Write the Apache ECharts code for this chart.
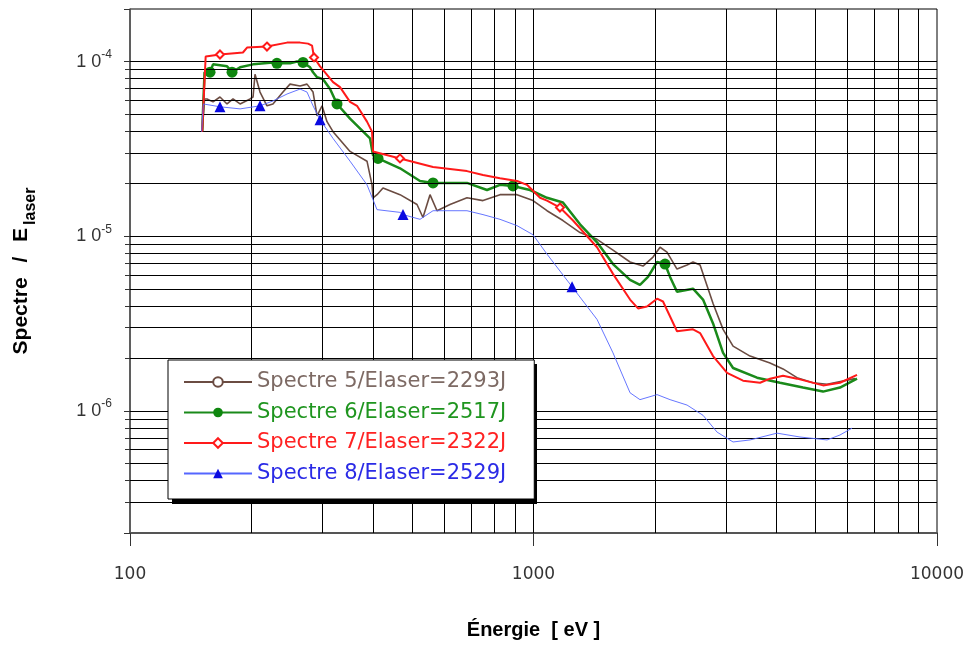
<!DOCTYPE html>
<html><head><meta charset="utf-8">
<script src="https://cdn.jsdelivr.net/npm/echarts@6/dist/echarts.min.js"></script>
<style>html,body{margin:0;padding:0;background:#fff}#c{width:970px;height:645px}</style>
</head><body><div id="c"></div>
<script>
// ---- data ----
const seriesNames = ['Spectre 5/Elaser=2293J', 'Spectre 6/Elaser=2517J', 'Spectre 7/Elaser=2322J', 'Spectre 8/Elaser=2529J'];

const s5E = [151, 153, 155.2, 160.6, 167.1, 174.0, 180.0, 187.4, 198.4, 201.8, 204.1, 210.0, 218.5, 226.1, 239.4, 249.2, 263.9, 274.6, 284.2, 290.8, 299.2, 307.8, 318.6, 351.0, 386.7, 397.9, 400.2, 409.5, 423.6, 466.8, 514.4, 532.2, 554.0, 576.6, 621.0, 684.1, 749.6, 826.0, 910.2, 997.2, 1080, 1183, 1304, 1437, 1574, 1735, 1868, 1978, 2059, 2142, 2268, 2402, 2485, 2587, 2786, 2950, 3123, 3441, 3856, 4153, 4498, 4928, 5339, 6264];
const s5V = [3.97e-5, 6.11e-5, 6.11e-5, 5.88e-5, 6.27e-5, 5.72e-5, 6.11e-5, 5.72e-5, 6.11e-5, 6.27e-5, 8.46e-5, 6.69e-5, 5.58e-5, 5.72e-5, 6.69e-5, 7.43e-5, 7.24e-5, 7.43e-5, 6.69e-5, 4.89e-5, 5.58e-5, 4.53e-5, 3.97e-5, 3.06e-5, 2.69e-5, 1.97e-5, 1.66e-5, 1.73e-5, 1.89e-5, 1.73e-5, 1.52e-5, 1.28e-5, 1.73e-5, 1.40e-5, 1.52e-5, 1.66e-5, 1.60e-5, 1.73e-5, 1.73e-5, 1.60e-5, 1.40e-5, 1.23e-5, 1.05e-5, 9.60e-6, 8.32e-6, 7.12e-6, 6.75e-6, 7.60e-6, 8.65e-6, 8.11e-6, 6.49e-6, 6.84e-6, 7.12e-6, 6.84e-6, 4.12e-6, 2.93e-6, 2.35e-6, 2.06e-6, 1.88e-6, 1.74e-6, 1.55e-6, 1.45e-6, 1.42e-6, 1.53e-6];
const s5Markers = [];

const s6E = [151, 153, 157.9, 160.6, 174.0, 179.0, 187.4, 201.8, 226.1, 231.3, 249.2, 259.4, 268.4, 279.4, 284.2, 290.8, 300.9, 313.2, 325.9, 351.0, 393.4, 400.2, 411.8, 466.8, 523.3, 563.6, 684.1, 767.0, 826.0, 889.6, 980.2, 1080, 1183, 1304, 1437, 1574, 1735, 1836, 1922, 2024, 2118, 2180, 2268, 2485, 2631, 2786, 2950, 3123, 3581, 4083, 4655, 5218, 5749, 6336];
const s6V = [3.97e-5, 8.69e-5, 8.69e-5, 9.64e-5, 9.39e-5, 8.69e-5, 9.27e-5, 9.64e-5, 9.89e-5, 9.77e-5, 9.77e-5, 1.002e-4, 9.89e-5, 9.27e-5, 8.69e-5, 8.14e-5, 7.93e-5, 6.96e-5, 5.72e-5, 4.71e-5, 3.63e-5, 2.91e-5, 2.79e-5, 2.45e-5, 2.07e-5, 2.02e-5, 2.02e-5, 1.84e-5, 1.97e-5, 1.94e-5, 1.84e-5, 1.66e-5, 1.56e-5, 1.17e-5, 9.23e-6, 6.93e-6, 5.63e-6, 5.27e-6, 5.85e-6, 7.12e-6, 6.93e-6, 5.85e-6, 4.81e-6, 5.01e-6, 4.34e-6, 3.17e-6, 2.15e-6, 1.76e-6, 1.55e-6, 1.45e-6, 1.36e-6, 1.29e-6, 1.36e-6, 1.53e-6];
const s6Markers = [2, 5, 9, 12, 18, 22, 25, 29, 40];

const s7E = [151, 154, 167.1, 190.5, 195.0, 218.5, 245.0, 263.9, 276.2, 282.6, 285.8, 295.8, 318.6, 331.5, 351.0, 365.2, 386.7, 397.9, 400.2, 466.8, 563.6, 684.1, 749.6, 826.0, 910.2, 963.6, 997.2, 1038, 1080, 1163, 1253, 1437, 1574, 1735, 1816, 1911, 2024, 2094, 2268, 2485, 2587, 2786, 3018, 3306, 3643, 3856, 4153, 4498, 5218, 5749, 6336];
const s7V = [3.97e-5, 1.07e-4, 1.098e-4, 1.127e-4, 1.203e-4, 1.219e-4, 1.284e-4, 1.284e-4, 1.267e-4, 1.235e-4, 1.056e-4, 9.39e-5, 7.63e-5, 7.14e-5, 5.88e-5, 5.58e-5, 4.53e-5, 3.97e-5, 3.06e-5, 2.79e-5, 2.49e-5, 2.36e-5, 2.24e-5, 2.15e-5, 2.07e-5, 1.97e-5, 1.82e-5, 1.66e-5, 1.60e-5, 1.46e-5, 1.23e-5, 8.65e-6, 6.09e-6, 4.34e-6, 3.86e-6, 3.96e-6, 4.39e-6, 4.23e-6, 2.86e-6, 2.93e-6, 2.79e-6, 2.06e-6, 1.65e-6, 1.49e-6, 1.45e-6, 1.53e-6, 1.59e-6, 1.53e-6, 1.40e-6, 1.45e-6, 1.61e-6];
const s7Markers = [2, 5, 10, 19, 29];

const s8E = [150.5, 152, 167.1, 187.4, 210.0, 226.1, 245.0, 263.9, 274.6, 284.2, 295.8, 318.6, 351.0, 386.7, 409.5, 466.8, 474.9, 523.3, 563.6, 684.1, 749.6, 826.0, 910.2, 997.2, 1080, 1246, 1437, 1574, 1735, 1836, 2024, 2180, 2402, 2631, 2851, 3123, 3441, 4013, 4576, 5339, 5749, 6158];
const s8V = [3.97e-5, 5.72e-5, 5.51e-5, 5.36e-5, 5.58e-5, 5.95e-5, 6.52e-5, 6.96e-5, 6.69e-5, 5.58e-5, 4.65e-5, 3.63e-5, 2.69e-5, 1.97e-5, 1.42e-5, 1.37e-5, 1.33e-5, 1.25e-5, 1.40e-5, 1.40e-5, 1.33e-5, 1.25e-5, 1.15e-5, 1.02e-5, 7.90e-6, 5.14e-6, 3.34e-6, 2.15e-6, 1.27e-6, 1.16e-6, 1.24e-6, 1.16e-6, 1.08e-6, 9.44e-7, 7.56e-7, 6.64e-7, 6.82e-7, 7.46e-7, 7.09e-7, 6.82e-7, 7.28e-7, 7.97e-7];
const s8Markers = [2, 4, 10, 16, 25];

// grid line values (log minor lines)
const xGridValues = [200, 300, 400, 500, 600, 700, 800, 900, 1000, 2000, 3000, 4000, 5000, 6000, 7000, 8000, 9000];
const yGridValues = [3e-7, 4e-7, 5e-7, 6e-7, 7e-7, 8e-7, 9e-7, 1e-6, 2e-6, 3e-6, 4e-6, 5e-6, 6e-6, 7e-6, 8e-6, 9e-6, 1e-5, 2e-5, 3e-5, 4e-5, 5e-5, 6e-5, 7e-5, 8e-5, 9e-5, 1e-4];

// ---- chart ----
const FONT = 'DejaVu Sans';
const SANS = 'Liberation Sans';
function build(E, V, marks) {
  return E.map((e, i) => marks.indexOf(i) >= 0 ? [e, V[i]] : { value: [e, V[i]], symbol: 'none' });
}
const chart = echarts.init(document.getElementById('c'), null, { renderer: 'canvas' });

const option = {
  animation: false,
  backgroundColor: '#fff',
  grid: { left: 130, right: 33, top: 9, bottom: 106, show: true, borderColor: '#000', borderWidth: 1, backgroundColor: 'transparent' },
  graphic: [
    { type: 'rect', z: 19, silent: true, shape: { x: 172, y: 364, width: 365, height: 140 }, style: { fill: '#000' } }
  ],
  xAxis: {
    type: 'log', logBase: 10, min: 100, max: 10000,
    name: 'Énergie  [ eV ]', nameLocation: 'middle', nameGap: 87,
    nameTextStyle: { fontFamily: SANS, fontWeight: 'bold', fontSize: 20, color: '#000' },
    axisLine: { show: true, lineStyle: { color: '#555', width: 2 } },
    axisTick: { show: true, length: 13, lineStyle: { color: '#333', width: 1 } },
    axisLabel: { margin: 33, fontFamily: FONT, fontSize: 17, color: '#333', formatter: v => String(v) },
    splitLine: { show: false }
  },
  yAxis: {
    type: 'log', logBase: 10, min: 2e-7, max: 2e-4,
    name: '{m|Spectre }{p|/}{m| E}{s|laser}', nameLocation: 'middle', nameRotate: 90, nameGap: 91,
    nameTextStyle: {
      rich: {
        m: { fontFamily: SANS, fontWeight: 'bold', fontSize: 21, color: '#000', lineHeight: 28, verticalAlign: 'top' },
        p: { fontFamily: SANS, fontWeight: 'bold', fontSize: 21, color: '#000', lineHeight: 28, verticalAlign: 'top', padding: [0, 9, 0, 9] },
        s: { fontFamily: SANS, fontWeight: 'bold', fontSize: 16, color: '#000', lineHeight: 16, verticalAlign: 'bottom', padding: [0, 0, 0, 3] }
      }
    },
    axisLine: { show: true, lineStyle: { color: '#555', width: 1.5 } },
    axisTick: { show: true, length: 6, lineStyle: { color: '#333', width: 1 } },
    minorTick: { show: true, splitNumber: 9, length: 5, lineStyle: { color: '#333', width: 1 } },
    axisLabel: {
      margin: 18,
      formatter: function (v) {
        const e = Math.log10(v);
        if (Math.abs(e - Math.round(e)) > 1e-6) return '';
        return '{a|1 0}{b|' + Math.round(e) + '}';
      },
      rich: {
        a: { fontFamily: SANS, fontSize: 18, color: '#333', lineHeight: 26, verticalAlign: 'middle' },
        b: { fontFamily: SANS, fontSize: 12, color: '#333', lineHeight: 11, verticalAlign: 'top' }
      }
    },
    splitLine: { show: false }
  },
  legend: {
    orient: 'vertical', left: 168, top: 360, z: 20,
    padding: [11.5, 28, 15, 15], itemGap: 9.5, itemWidth: 68, itemHeight: 12,
    backgroundColor: '#fff', borderColor: '#000', borderWidth: 1, borderRadius: 0,
    selectedMode: false,
    textStyle: { fontFamily: FONT, fontSize: 21, lineHeight: 21 },
    data: [
      { name: seriesNames[0], textStyle: { color: '#7d6a64' } },
      { name: seriesNames[1], textStyle: { color: '#1f951f' } },
      { name: seriesNames[2], textStyle: { color: '#ff2222' } },
      { name: seriesNames[3], textStyle: { color: '#2a2ae6' } }
    ]
  },
  series: [
    {
      type: 'line', name: 'grid', data: [], z: 1, silent: true,
      markLine: {
        silent: true, symbol: ['none', 'none'], label: { show: false }, animation: false, precision: 20,
        lineStyle: { color: '#000', width: 1, type: 'solid' },
        emphasis: { disabled: true },
        data: xGridValues.map(v => ({ xAxis: v })).concat(yGridValues.map(v => ({ yAxis: v })))
      }
    },
    {
      type: 'line', name: seriesNames[0], data: build(s5E, s5V, s5Markers), z: 3,
      symbol: 'emptyCircle', symbolSize: 7, showAllSymbol: true,
      lineStyle: { color: '#6b4c42', width: 1.6 }, itemStyle: { color: '#6b4c42', borderWidth: 1 }
    },
    {
      type: 'line', name: seriesNames[1], data: build(s6E, s6V, s6Markers), z: 4,
      symbol: 'circle', symbolSize: 11, showAllSymbol: true,
      lineStyle: { color: '#1a8a1a', width: 2.5 }, itemStyle: { color: '#0f870f' }
    },
    {
      type: 'line', name: seriesNames[2], data: build(s7E, s7V, s7Markers), z: 5,
      symbol: 'emptyDiamond', symbolSize: 8, showAllSymbol: true,
      lineStyle: { color: '#ff1a1a', width: 2 }, itemStyle: { color: '#ff1a1a', borderWidth: 1 }
    },
    {
      type: 'line', name: seriesNames[3], data: build(s8E, s8V, s8Markers), z: 6,
      symbol: 'triangle', symbolSize: 11, showAllSymbol: true,
      lineStyle: { color: '#5566ff', width: 0.9 }, itemStyle: { color: '#0a0ae0' }
    }
  ]
};
chart.setOption(option);
</script>
</body></html>
